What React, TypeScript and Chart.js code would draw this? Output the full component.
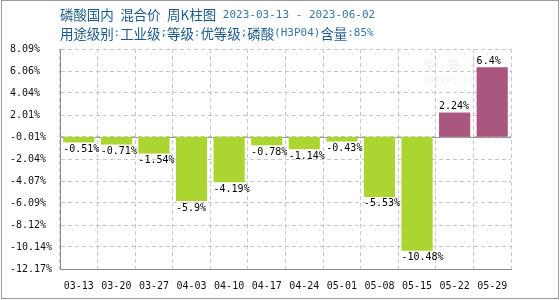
import React, { useEffect, useRef } from 'react';
import { Chart, registerables } from 'chart.js';

Chart.register(...registerables);

const categories = ['03-13', '03-20', '03-27', '04-03', '04-10', '04-17', '04-24', '05-01', '05-08', '05-15', '05-22', '05-29'];
const changes = [-0.51, -0.71, -1.54, -5.9, -4.19, -0.78, -1.14, -0.43, -5.53, -10.48, 2.24, 6.4];
const yTickValues = [8.09, 6.06, 4.04, 2.01, -0.01, -2.04, -4.07, -6.09, -8.12, -10.14, -12.17];
const titleLine1 = '磷酸国内 混合价 周K柱图 2023-03-13 - 2023-06-02';
const titleLine2 = '用途级别:工业级;等级:优等级;磷酸(H3P04)含量:85%';

const UP_COLOR = '#a9577f';
const DOWN_COLOR = '#acd532';
const MONO = "'DejaVu Sans Mono', 'Liberation Mono', monospace";
const CJK = "'Noto Sans CJK SC', sans-serif";

function drawMixed(ctx: CanvasRenderingContext2D, text: string, x0: number, y: number) {
  let x = x0;
  ctx.textBaseline = 'middle';
  ctx.textAlign = 'left';
  for (const ch of text) {
    const wide = ch.charCodeAt(0) > 255 || ch === 'K';
    if (wide) {
      ctx.font = `13.5px ${CJK}`;
      ctx.fillStyle = '#1b5b8b';
    } else {
      ctx.font = `11px ${MONO}`;
      ctx.fillStyle = '#3576a8';
    }
    ctx.fillText(ch, x, y);
    x += ch.charCodeAt(0) > 255 ? 13.4 : wide ? 9 : ctx.measureText(ch).width;
  }
}

const decorPlugin = {
  id: 'decor',
  beforeDraw(chart: any) {
    const ctx = chart.ctx as CanvasRenderingContext2D;
    ctx.save();
    ctx.fillStyle = '#ffffff';
    ctx.fillRect(0, 0, chart.width, chart.height);
    ctx.strokeStyle = '#9a9a9a';
    ctx.lineWidth = 1;
    ctx.strokeRect(1.5, 0.5, 557, 298);
    drawMixed(ctx, titleLine1, 60, 15);
    drawMixed(ctx, titleLine2, 60, 33.5);
    ctx.fillStyle = 'rgba(220,200,200,0.25)';
    ctx.font = `bold 13px ${CJK}`;
    ctx.textBaseline = 'middle';
    ctx.fillText('生', 423, 65);
    ctx.fillText('意', 447, 65);
    ctx.fillText('社', 470, 65);
    ctx.font = `10px ${MONO}`;
    ctx.fillStyle = 'rgba(210,210,210,0.3)';
    ctx.fillText('100PPI.COM', 422, 81);
    ctx.restore();
  },
  beforeDatasetsDraw(chart: any) {
    const ctx = chart.ctx as CanvasRenderingContext2D;
    const y0 = Math.round(chart.scales.y.getPixelForValue(0)) + 0.5;
    ctx.save();
    ctx.strokeStyle = '#9a9a9a';
    ctx.lineWidth = 1;
    ctx.beginPath();
    ctx.moveTo(chart.chartArea.left, y0);
    ctx.lineTo(chart.chartArea.right, y0);
    ctx.stroke();
    ctx.restore();
  },
  afterDatasetsDraw(chart: any) {
    const ctx = chart.ctx as CanvasRenderingContext2D;
    const meta = chart.getDatasetMeta(0);
    ctx.save();
    ctx.font = `10px ${MONO}`;
    ctx.fillStyle = '#000000';
    ctx.textAlign = 'left';
    meta.data.forEach((bar: any, i: number) => {
      const v = changes[i];
      const left = bar.x - bar.width / 2;
      const label = `${v}%`;
      if (v < 0) {
        ctx.textBaseline = 'top';
        ctx.fillText(label, left, bar.y + 2);
      } else {
        ctx.textBaseline = 'bottom';
        ctx.fillText(label, left, bar.y - 1);
      }
    });
    ctx.restore();
  },
};

export default function App() {
  const ref = useRef<HTMLCanvasElement | null>(null);
  useEffect(() => {
    if (!ref.current) return;
    const chart = new Chart(ref.current, {
      type: 'bar',
      data: {
        labels: categories,
        datasets: [
          {
            data: changes,
            backgroundColor: changes.map((v) => (v >= 0 ? UP_COLOR : DOWN_COLOR)),
            barPercentage: 0.83,
            categoryPercentage: 1,
            borderWidth: 0,
          },
        ],
      },
      options: {
        responsive: false,
        animation: false,
        layout: { padding: { left: 10, top: 49, right: 49, bottom: 0 } },
        plugins: { legend: { display: false }, tooltip: { enabled: false }, title: { display: false } },
        scales: {
          x: {
            grid: { color: '#c8c8c8', drawTicks: false, offset: true },
            border: { color: '#8c8c8c', dash: [4, 3] },
            ticks: { color: '#111', font: { family: MONO, size: 10 }, padding: 11, maxRotation: 0, autoSkip: false },
            afterFit: (s: any) => { s.height = 31; },
          },
          y: {
            min: -12.17,
            max: 8.09,
            afterBuildTicks: (axis: any) => { axis.ticks = yTickValues.map((v) => ({ value: v })); },
            grid: { color: '#c8c8c8', drawTicks: false },
            border: { color: '#8c8c8c', dash: [4, 3] },
            ticks: {
              color: '#111',
              font: { family: MONO, size: 10 },
              crossAlign: 'far',
              callback: (v: any) => `${Number(v).toFixed(2)}%`,
            },
            afterFit: (s: any) => { s.width = 50; },
          },
        },
      },
      plugins: [decorPlugin],
    });
    return () => chart.destroy();
  }, []);
  return (
    <div style={{ position: 'absolute', left: 0, top: 0, width: 560, height: 300 }}>
      <canvas ref={ref} width={560} height={300} />
    </div>
  );
}
